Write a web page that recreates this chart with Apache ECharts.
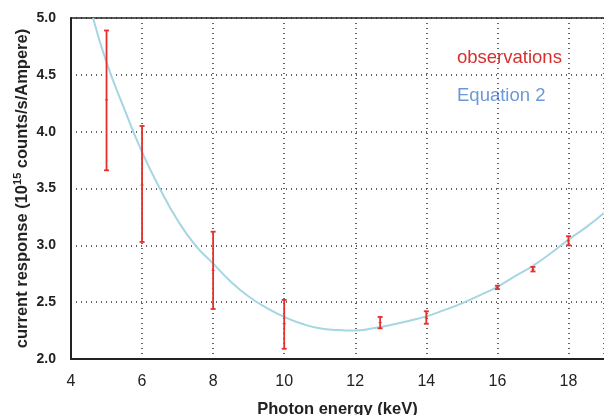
<!DOCTYPE html>
<html>
<head>
<meta charset="utf-8">
<script src="https://cdn.jsdelivr.net/npm/echarts@6/dist/echarts.min.js"></script>
<style>
  html, body { margin: 0; padding: 0; background: #fff; }
  #chart { width: 604px; height: 415px; }
</style>
</head>
<body>
<div id="chart"></div>
<script>
// observations (keV, response, error range)
const obsEnergy = [5, 6, 8, 10, 12.7, 14, 16, 17, 18]
const obsValue  = [4.28, 3.53, 2.78, 2.31, 2.32, 2.36, 2.63, 2.79, 3.04]
const obsLow    = [3.66, 3.03, 2.44, 2.09, 2.27, 2.31, 2.615, 2.77, 3.00]
const obsHigh   = [4.89, 4.05, 3.12, 2.52, 2.37, 2.42, 2.645, 2.81, 3.08]

// Equation 2 curve
const fitEnergy = [4.62, 5, 5.5, 6, 6.5, 7, 7.5, 8, 8.5, 9, 9.5, 10, 10.5, 11, 11.5, 12,
  12.5, 13, 13.5, 14, 14.5, 15, 15.5, 16, 16.5, 17, 17.5, 18, 18.5, 19]
const fitValue = [5.0, 4.61, 4.2, 3.82, 3.5, 3.22, 3.0, 2.84, 2.68, 2.55, 2.45, 2.37, 2.31,
  2.27, 2.255, 2.25, 2.27, 2.3, 2.335, 2.375, 2.43, 2.49, 2.56, 2.635, 2.73, 2.82, 2.93,
  3.05, 3.16, 3.285]

const xTicks = [4, 6, 8, 10, 12, 14, 16, 18]

const chart = echarts.init(document.getElementById('chart'))

const errData = obsEnergy.map((x, i) => [x, obsLow[i], obsHigh[i], obsValue[i]])

const dotted = { color: '#333', type: [1, 4], width: 1.5 }

chart.setOption({
  animation: false,
  grid: { left: 71, right: 0, top: 18, bottom: 56, outerBoundsMode: 'none', containLabel: false },
  xAxis: [{
    type: 'value',
    min: 4, max: 19, interval: 2,
    name: 'Photon energy (keV)',
    nameLocation: 'middle',
    nameGap: 42,
    nameMoveOverlap: false,
    nameTextStyle: { fontFamily: 'Liberation Sans', fontWeight: 'bold', fontSize: 16.5, color: '#222' },
    axisLine: { lineStyle: { color: '#222', width: 2 } },
    axisTick: { show: false },
    axisLabel: {
      fontFamily: 'Liberation Sans', fontSize: 16, color: '#222', margin: 15,
      formatter: v => xTicks.includes(v) ? String(v) : ''
    },
    splitLine: { show: true, lineStyle: dotted }
  }, {
    type: 'value',
    position: 'top',
    min: 4, max: 19,
    axisLine: { show: true, lineStyle: { color: '#222', width: 1.5 } },
    axisTick: { show: false },
    axisLabel: { show: false },
    splitLine: { show: false }
  }],
  yAxis: {
    type: 'value',
    min: 2, max: 5, interval: 0.5,
    name: '{a|current response (10}{s|15}{a| counts/s/Ampere)}',
    nameLocation: 'middle',
    nameGap: 39,
    nameMoveOverlap: false,
    nameTextStyle: {
      rich: {
        a: { fontFamily: 'Liberation Sans', fontWeight: 'bold', fontSize: 16.5, color: '#222', lineHeight: 20 },
        s: { fontFamily: 'Liberation Sans', fontWeight: 'bold', fontSize: 11, color: '#222', verticalAlign: 'top', lineHeight: 20, padding: [0, 0, 7, 0] }
      }
    },
    axisLine: { show: true, lineStyle: { color: '#222', width: 2 } },
    axisTick: { show: false },
    axisLabel: {
      fontFamily: 'Liberation Sans', fontWeight: 'bold', fontSize: 14, color: '#222', margin: 15,
      formatter: v => v.toFixed(1)
    },
    splitLine: { show: true, lineStyle: dotted }
  },
  series: [
    {
      name: 'Equation 2',
      type: 'line',
      smooth: true,
      symbol: 'none',
      clip: true,
      lineStyle: { color: '#a6d6e3', width: 2 },
      data: fitEnergy.map((x, i) => [x, fitValue[i]]),
      z: 3
    },
    {
      name: 'observations',
      type: 'custom',
      data: errData,
      z: 4,
      renderItem: (params, api) => {
        const x = api.value(0)
        const lo = api.coord([x, api.value(1)])
        const hi = api.coord([x, api.value(2)])
        const mid = api.coord([x, api.value(3)])
        const style = { stroke: '#e2302c', lineWidth: 1.8 }
        const cap = 2.5
        return {
          type: 'group',
          children: [
            { type: 'line', shape: { x1: lo[0], y1: lo[1], x2: hi[0], y2: hi[1] }, style },
            { type: 'line', shape: { x1: lo[0] - cap, y1: lo[1], x2: lo[0] + cap, y2: lo[1] }, style },
            { type: 'line', shape: { x1: hi[0] - cap, y1: hi[1], x2: hi[0] + cap, y2: hi[1] }, style },
            { type: 'line', shape: { x1: mid[0] - 1.5, y1: mid[1], x2: mid[0] + 1.5, y2: mid[1] }, style: { stroke: '#e2302c', lineWidth: 1 } }
          ]
        }
      }
    }
  ],
  graphic: [
    { type: 'text', left: 457, top: 48, style: { text: 'observations', fill: '#d62f2f', font: '18.5px "Liberation Sans"' } },
    { type: 'text', left: 457, top: 86, style: { text: 'Equation 2', fill: '#6b98d8', font: '18.5px "Liberation Sans"' } }
  ]
})
</script>
</body>
</html>
